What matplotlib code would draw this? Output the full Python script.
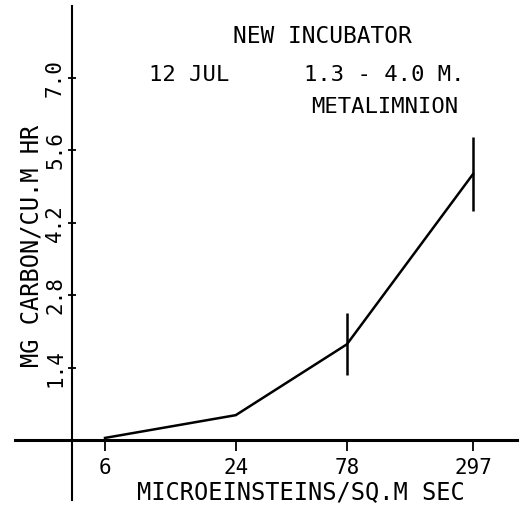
import numpy as np
import matplotlib
matplotlib.use("Agg")
import matplotlib.pyplot as plt
from matplotlib.ticker import NullLocator

# Data
light = [6, 24, 78, 297]            # microeinsteins/sq.m sec
carbon = [0.04, 0.48, 1.85, 5.14]   # mg carbon/cu.m hr
err = [0.0, 0.0, 0.6, 0.71]

yticks = [1.4, 2.8, 4.2, 5.6, 7.0]
ytick_labels = ["1.4", "2.8", "4.2", "5.6", "7.0"]
xtick_labels = ["6", "24", "78", "297"]

W, H = 522, 515
font = "DejaVu Sans Mono"
plt.rcParams["font.family"] = font

fig = plt.figure(figsize=(W / 100, H / 100), dpi=100)
ax = fig.add_axes([15 / W, 1 - 500 / H, (517 - 15) / W, (500 - 6) / H])

ax.set_xscale("log")
ax.set_xlim(2.31, 473.7)
ax.set_ylim(-1.16, 8.39)

ax.plot(light, carbon, color="black", lw=1.8, solid_joinstyle="miter")
ax.errorbar(light[2:], carbon[2:], yerr=err[2:], fmt="none",
            ecolor="black", elinewidth=1.8, capsize=0)

for s in ["top", "right"]:
    ax.spines[s].set_visible(False)
ax.spines["left"].set_position(("data", 4.23))
ax.spines["bottom"].set_position(("data", 0))
ax.spines["left"].set_linewidth(1.5)
ax.spines["bottom"].set_linewidth(2.2)

ax.set_xticks(light)
ax.set_xticklabels(xtick_labels)
ax.xaxis.set_minor_locator(NullLocator())
ax.set_yticks(yticks)
ax.set_yticklabels(ytick_labels, rotation=90, va="center")

ax.tick_params(axis="x", direction="out", length=8, width=1.3, pad=5,
               labelsize=15)
ax.tick_params(axis="y", direction="inout", length=6, width=1.3, pad=2,
               labelsize=15)

fig.text(32 / W, 1 - 246 / H, "MG CARBON/CU.M HR", rotation=90,
         ha="center", va="center", fontsize=17)
fig.text(301 / W, 1 - 492 / H, "MICROEINSTEINS/SQ.M SEC",
         ha="center", va="center", fontsize=17)

fig.text(322 / W, 1 - 36 / H, "NEW INCUBATOR", ha="center", va="center",
         fontsize=16.5)
fig.text(189 / W, 1 - 75 / H, "12 JUL", ha="center", va="center",
         fontsize=16)
fig.text(384 / W, 1 - 75 / H, "1.3 - 4.0 M.", ha="center", va="center",
         fontsize=16)
fig.text(385 / W, 1 - 107 / H, "METALIMNION", ha="center", va="center",
         fontsize=16)

fig.savefig("out.png", dpi=100)
